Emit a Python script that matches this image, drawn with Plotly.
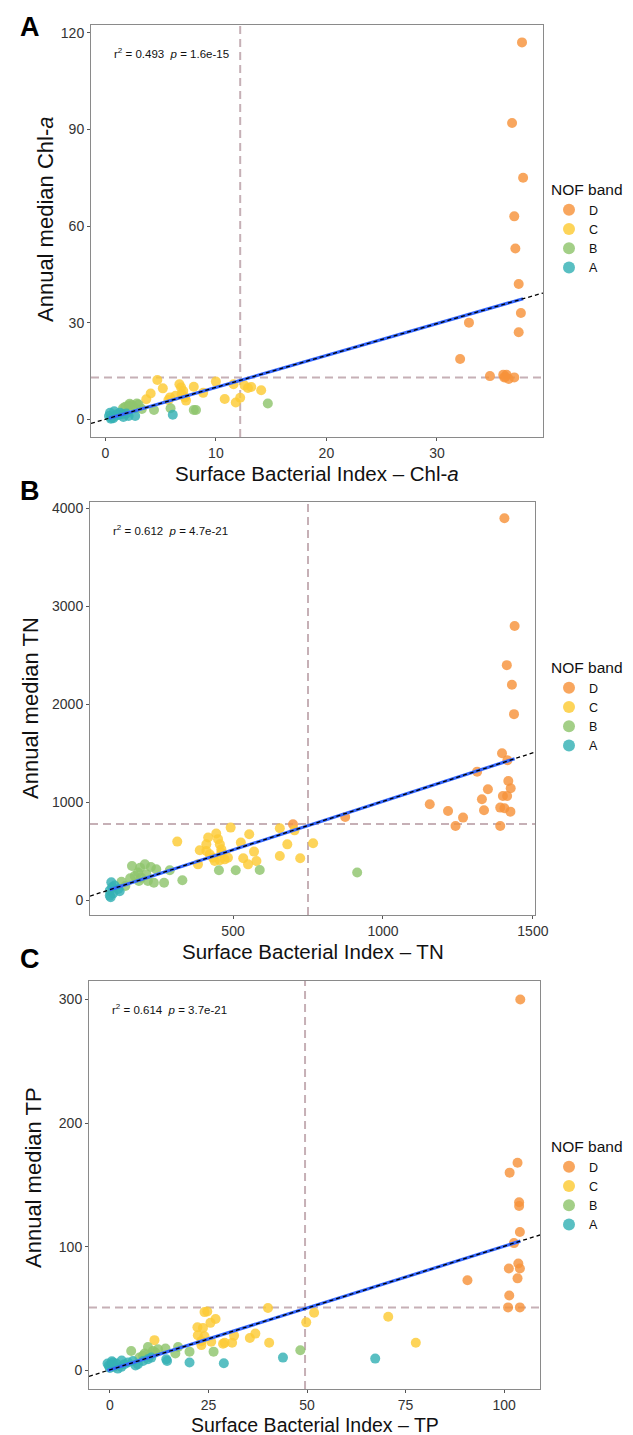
import plotly.graph_objects as go
import numpy as np

W, H = 633, 1435

bands = ["D", "C", "B", "A"]
band_colors = ["#F7923A", "#FDCB35", "#8FC46D", "#35B1B4"]

# ---------------- Panel A : Chl-a ----------------
chl_x_D = [37.7, 36.8, 37.8, 37.0, 37.1, 37.4, 37.6, 32.9, 37.4, 32.1, 34.8, 36.0, 36.3, 36.1, 36.5, 37.0, 36.2]
chl_y_D = [117, 92, 75, 63, 53, 42, 33, 30, 27, 18.7, 13.4, 13.8, 13.8, 13.0, 12.5, 13.0, 13.2]
chl_x_C = [4.7, 5.2, 4.1, 3.7, 6.7, 6.85, 7.05, 6.9, 7.2, 7.3, 6.35, 5.85, 5.7, 8.0, 8.85, 10.0, 10.8, 11.6, 11.8, 12.2, 12.6, 13.2, 14.1, 12.9]
chl_y_C = [12.2, 9.6, 8.0, 6.2, 10.9, 9.9, 8.8, 7.8, 6.8, 5.8, 7.3, 6.8, 6.0, 10.1, 8.2, 11.7, 6.3, 10.9, 5.2, 6.7, 10.5, 10.0, 9.0, 9.7]
chl_x_B = [14.7, 8.0, 8.2, 5.9, 4.4, 3.3, 2.85, 2.4, 2.1, 1.8, 1.6, 2.7, 3.0, 2.2]
chl_y_B = [4.9, 2.9, 2.9, 3.4, 2.9, 3.2, 4.9, 4.4, 4.3, 3.9, 3.4, 3.4, 4.6, 4.8]
chl_x_A = [6.1, 2.7, 2.1, 1.5, 0.42, 0.57, 0.87, 1.17, 0.72, 1.32, 1.63, 1.0, 0.33, 0.5, 0.8, 1.9]
chl_y_A = [1.4, 1.0, 1.0, 1.6, 2.0, 0.5, 1.0, 1.3, 0.3, 2.0, 0.7, 1.5, 1.0, 0.2, 2.5, 1.8]

# ---------------- Panel B : TN ----------------
tn_x_D = [1405, 1439, 1413, 1430, 1437, 1397, 1415, 1314, 1418, 1350, 1426, 1400, 1414, 1330, 1156, 1337, 1391, 1405, 1425, 1217, 1267, 1242, 1391, 874, 700]
tn_y_D = [3900, 2800, 2400, 2200, 1900, 1500, 1430, 1313, 1218, 1133, 1143, 1065, 1065, 1031, 980, 919, 946, 939, 905, 912, 844, 759, 759, 851, 776]
tn_x_C = [492, 656, 705, 554, 444, 417, 450, 456, 461, 314, 526, 411, 681, 767, 389, 411, 422, 433, 439, 456, 472, 483, 570, 534, 578, 550, 656, 724, 383, 461]
tn_y_C = [742, 735, 714, 674, 681, 641, 624, 571, 520, 599, 589, 571, 571, 582, 510, 503, 469, 435, 401, 408, 418, 435, 497, 429, 401, 367, 453, 429, 367, 486]
tn_x_B = [914, 453, 509, 589, 331, 289, 270, 236, 244, 226, 206, 190, 163, 183, 172, 194, 211, 157, 186, 216, 128, 141]
tn_y_B = [283, 306, 306, 310, 204, 306, 180, 180, 316, 340, 367, 333, 350, 283, 248, 231, 265, 224, 197, 197, 190, 146]
tn_x_A = [94, 97, 89, 89, 100, 117, 122, 105, 92]
tn_y_A = [184, 133, 99, 48, 71, 116, 92, 150, 31]

# ---------------- Panel C : TP ----------------
tp_x_D = [104.1, 103.4, 101.4, 103.8, 103.8, 104.0, 102.5, 103.6, 101.2, 104.0, 103.4, 90.7, 101.3, 101.0, 104.0]
tp_y_D = [300, 168, 160, 136, 133, 112, 103, 86.5, 82.5, 82.5, 74.5, 73, 60.6, 51, 51]
tp_x_C = [40.1, 24.0, 24.7, 51.8, 26.8, 70.6, 49.8, 25.5, 22.2, 23.6, 22.3, 24.0, 23.2, 23.2, 25.7, 29.1, 28.7, 31.0, 31.5, 35.5, 36.9, 40.4, 77.6, 11.3]
tp_y_C = [50.5, 47.2, 47.7, 46.7, 41.6, 43.4, 38.9, 38.5, 34.9, 34.4, 28.5, 27.7, 23.7, 20.5, 23.2, 22.4, 21.6, 22.4, 28.2, 26.3, 29.8, 22.4, 22.4, 24.5]
tp_x_B = [48.3, 26.3, 20.2, 17.3, 16.6, 14.1, 12.2, 9.65, 10.9, 8.8, 8.4, 10.1, 5.4, 7.5, 11.5]
tp_y_B = [16.3, 15.2, 15.2, 19.0, 13.7, 17.8, 17.2, 19.0, 15.8, 13.7, 11.8, 11.8, 15.8, 10.5, 14.5]
tp_x_A = [67.3, 43.9, 28.9, 20.2, 14.5, 14.3, 10.5, 9.65, 8.4, 7.1, 5.85, 4.6, 2.9, 3.7, 1.6, 0.35, -0.3, -0.6, 0.76, 0.0, 1.0, 2.0, 0.5, 3.0, 6.5]
tp_y_A = [9.6, 10.4, 5.8, 6.4, 7.7, 9.0, 10.4, 9.0, 7.7, 5.1, 7.7, 6.4, 2.9, 5.1, 5.6, 4.6, 3.8, 5.6, 6.4, 2.0, 3.0, 1.5, 7.5, 8.0, 4.0]

# thresholds, fits, annotations
panel_letters = ["A", "B", "C"]
vline_x = [12.2, 750, 49.5]
hline_y = [13, 780, 51]
fit_slope = [0.99, 0.99, 1.0]
fit_intercept = [0.0, 20.0, 0.5]
stat_text = ["r<sup>2</sup> = 0.493  <i>p</i> = 1.6e-15",
             "r<sup>2</sup> = 0.612  <i>p</i> = 4.7e-21",
             "r<sup>2</sup> = 0.614  <i>p</i> = 3.7e-21"]
y_titles = ["Annual median Chl-<i>a</i>", "Annual median TN", "Annual median TP"]
x_titles = ["Surface Bacterial Index – Chl-<i>a</i>", "Surface Bacterial Index – TN", "Surface Bacterial Index – TP"]
x_ticks = [[0, 10, 20, 30], [500, 1000, 1500], [0, 25, 50, 75, 100]]
y_ticks = [[0, 30, 60, 90, 120], [0, 1000, 2000, 3000, 4000], [0, 100, 200, 300]]
x_ranges = [[-1.3, 39.6], [23, 1507], [-5.3, 109.1]]
y_ranges = [[-5.5, 122.4], [-150, 4065], [-15, 315]]

data = [
    [(chl_x_D, chl_y_D), (chl_x_C, chl_y_C), (chl_x_B, chl_y_B), (chl_x_A, chl_y_A)],
    [(tn_x_D, tn_y_D), (tn_x_C, tn_y_C), (tn_x_B, tn_y_B), (tn_x_A, tn_y_A)],
    [(tp_x_D, tp_y_D), (tp_x_C, tp_y_C), (tp_x_B, tp_y_B), (tp_x_A, tp_y_A)],
]

# layout geometry (pixels)
box_px = [(83, 535, 17, 429), (82, 527, 494, 907), (81, 532, 973, 1381)]
letter_y = [19, 483, 951]
ytitle_pos = [(38, 212), (22, 700), (25, 1170)]
xtitle_y = [465, 943, 1417]
xtitle_size = [20.5, 20.5, 19.5]
legend_top = [167, 645, 1124]


def px(v):
    return v / W


def py(v):
    return 1 - v / H


FONT = "Liberation Sans, Arial, sans-serif"
fig = go.Figure()
layout = {}
annotations = []
shapes = []

for i in range(3):
    sfx = "" if i == 0 else str(i + 1)
    xa, ya = "x" + sfx, "y" + sfx
    leg = "legend" + sfx
    for b, col, (xs, ys) in zip(bands, band_colors, data[i]):
        fig.add_trace(go.Scatter(
            x=xs, y=ys, mode="markers", name=b,
            marker=dict(size=10, color=col, opacity=0.82, line=dict(width=0)),
            xaxis=xa, yaxis=ya, legend=leg, legendgroup=f"{i}{b}"))
    allx = np.concatenate([np.array(d[0], float) for d in data[i]])
    xb = np.array([allx.min(), allx.max()])
    fig.add_trace(go.Scatter(x=xb, y=fit_intercept[i] + fit_slope[i] * xb, mode="lines",
                             line=dict(color="#3366FF", width=3.2), showlegend=False,
                             xaxis=xa, yaxis=ya, hoverinfo="skip"))
    xr = np.array(x_ranges[i])
    fig.add_trace(go.Scatter(x=xr, y=fit_intercept[i] + fit_slope[i] * xr, mode="lines",
                             line=dict(color="black", width=1.3, dash="4px,3px"), showlegend=False,
                             xaxis=xa, yaxis=ya, hoverinfo="skip"))

    l, r, t, bt = box_px[i]
    axis_common = dict(showline=True, mirror=True, linecolor="#8a8a8a", linewidth=1,
                       ticks="outside", ticklen=3, tickcolor="#555", tickwidth=1,
                       showgrid=False, zeroline=False,
                       tickfont=dict(size=14, color="#333", family=FONT))
    layout["xaxis" + sfx] = dict(domain=[px(l), px(r)], range=x_ranges[i], tickvals=x_ticks[i],
                                 anchor=ya, **axis_common)
    layout["yaxis" + sfx] = dict(domain=[py(bt), py(t)], range=y_ranges[i], tickvals=y_ticks[i],
                                 anchor=xa, **axis_common)
    layout[leg] = dict(x=px(541), y=py(legend_top[i]), xanchor="left", yanchor="top",
                       title=dict(text="NOF band", font=dict(size=15.5, color="#111", family=FONT)),
                       font=dict(size=12.5, color="#111", family=FONT), bgcolor="rgba(0,0,0,0)",
                       tracegroupgap=0, itemsizing="constant")

    shapes.append(dict(type="line", xref=xa, yref=ya + " domain", x0=vline_x[i], x1=vline_x[i], y0=0, y1=1,
                       line=dict(color="#C6B0B6", width=2, dash="8px,5px"), layer="below"))
    shapes.append(dict(type="line", xref=xa + " domain", yref=ya, x0=0, x1=1, y0=hline_y[i], y1=hline_y[i],
                       line=dict(color="#C6B0B6", width=2, dash="8px,5px"), layer="below"))

    annotations.append(dict(text=stat_text[i], xref="paper", yref="paper", x=px(l + 21), y=py(t + 28),
                            xanchor="left", yanchor="middle", showarrow=False,
                            font=dict(size=11.5, color="#111", family=FONT)))
    annotations.append(dict(text="<b>" + panel_letters[i] + "</b>", xref="paper", yref="paper",
                            x=px(22), y=py(letter_y[i]), xanchor="center", yanchor="middle",
                            showarrow=False, font=dict(size=27, color="black", family=FONT)))
    annotations.append(dict(text=y_titles[i], xref="paper", yref="paper", x=px(ytitle_pos[i][0]),
                            y=py(ytitle_pos[i][1]), xanchor="center", yanchor="middle", textangle=-90,
                            showarrow=False, font=dict(size=22, color="#111", family=FONT)))
    annotations.append(dict(text=x_titles[i], xref="paper", yref="paper", x=px((l + r) / 2),
                            y=py(xtitle_y[i]), xanchor="center", yanchor="middle",
                            showarrow=False, font=dict(size=xtitle_size[i], color="#111", family=FONT)))

fig.update_layout(width=W, height=H, margin=dict(l=0, r=0, t=0, b=0, autoexpand=False),
                  paper_bgcolor="white", plot_bgcolor="white",
                  font=dict(family=FONT), annotations=annotations, shapes=shapes, **layout)

fig.write_html("out.html")
